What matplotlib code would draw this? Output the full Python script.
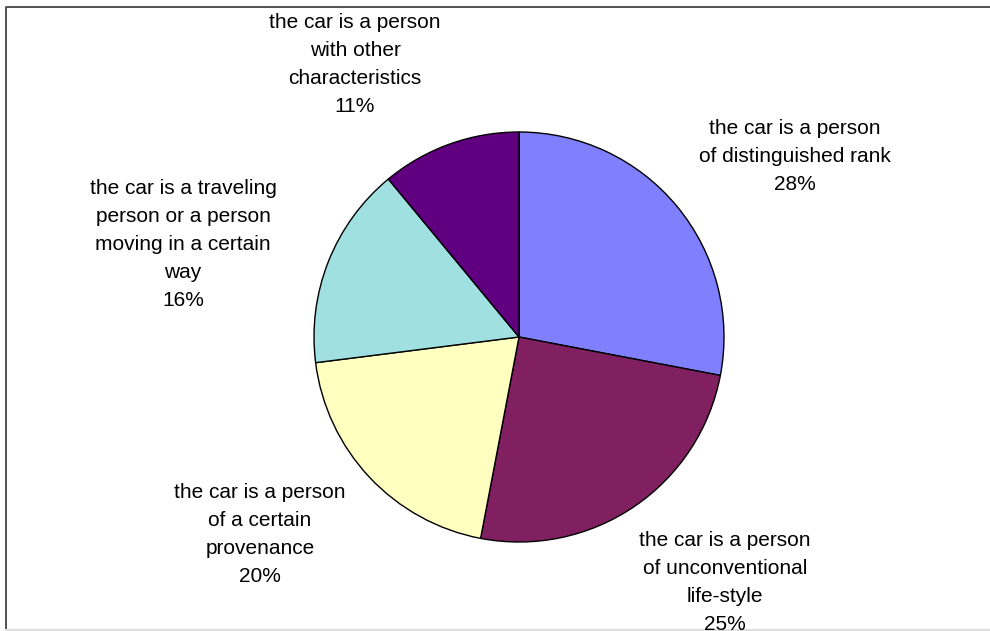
import matplotlib.pyplot as plt
from matplotlib.lines import Line2D

# share of each metaphor type, clockwise from 12 o'clock
categories = [
    "the car is a person\nof distinguished rank",
    "the car is a person\nof unconventional\nlife-style",
    "the car is a person\nof a certain\nprovenance",
    "the car is a traveling\nperson or a person\nmoving in a certain\nway",
    "the car is a person\nwith other\ncharacteristics",
]
shares = [28, 25, 20, 16, 11]
colors = ["#8080FF", "#802060", "#FFFFC0", "#A0E0E0", "#600080"]

# label anchor points (figure pixels, top-left origin), centre of text block
label_pos = [(795, 156), (725, 583), (260, 534), (183, 244), (355, 64)]

W, H = 990, 631
fig = plt.figure(figsize=(W / 100, H / 100), dpi=100)
ax = fig.add_axes([0, 0, 1, 1])
ax.axis("off")

ax.pie(shares, colors=colors, startangle=90, counterclock=False,
       center=(519, H - 337), radius=205,
       wedgeprops=dict(edgecolor="black", linewidth=1.0))
ax.set_xlim(0, W)
ax.set_ylim(0, H)
ax.set_aspect("equal")

for cat, val, (x, y) in zip(categories, shares, label_pos):
    ax.text(x, H - y, f"{cat}\n{val}%", ha="center", va="center",
            fontsize=15, family="Liberation Sans", linespacing=1.6,
            color="black")

# chart area frame: dark top/left edge, faint bottom edge
ax.add_line(Line2D([6, 6, W + 5], [0, H - 7, H - 7], color="#444444",
                   linewidth=1.3))
ax.add_line(Line2D([6, W + 5], [1.5, 1.5], color="#dddddd", linewidth=1.5))

fig.savefig("out.png", dpi=100, facecolor="white")
